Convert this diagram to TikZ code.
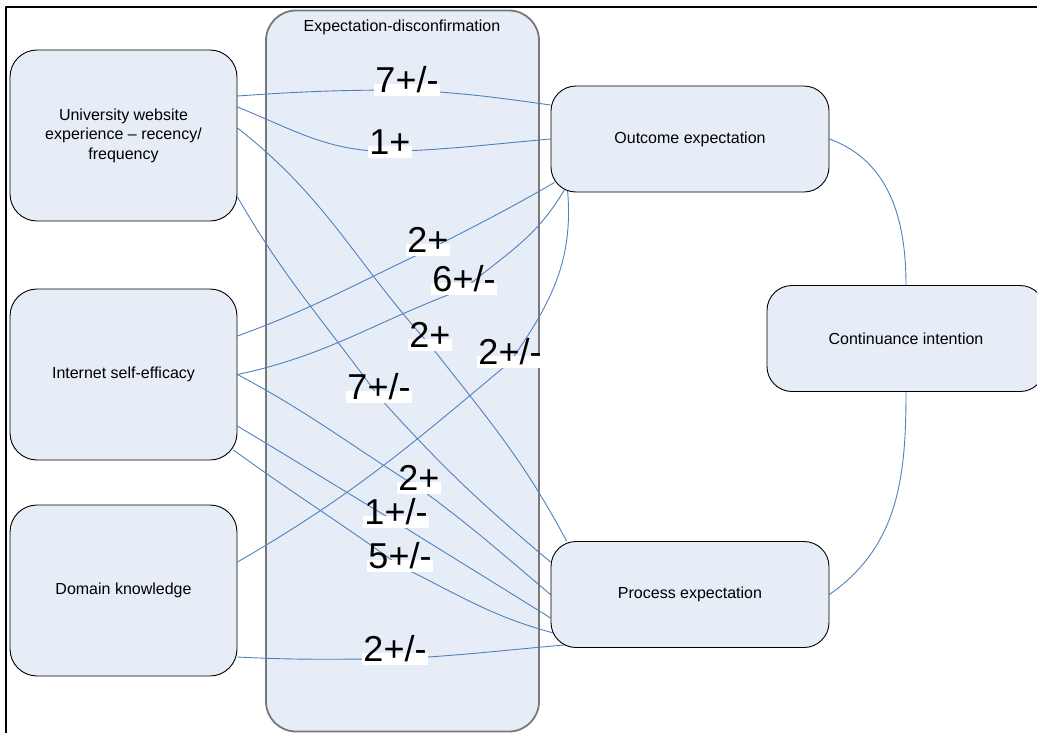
\documentclass[tikz,border=0pt]{standalone}
\usepackage{fontspec}
\setmainfont{Liberation Sans}
\definecolor{boxfill}{RGB}{230,237,247}
\definecolor{wireblue}{RGB}{79,129,189}
\definecolor{edgray}{RGB}{120,120,120}
\pgfdeclarelayer{back}
\pgfdeclarelayer{wires}
\pgfsetlayers{back,wires,main}
\tikzset{
	factor/.style={draw, fill=boxfill, line width=0.9pt, rounded corners=27pt,
		minimum width=227pt, minimum height=171pt, align=center, inner sep=0pt,
		font=\fontsize{16}{19.5}\selectfont},
	expect/.style={factor, rounded corners=25pt, minimum width=278pt, minimum height=106pt},
	group/.style={draw=edgray, fill=boxfill, line width=1.8pt, rounded corners=30pt,
		minimum width=273pt, minimum height=721pt, inner sep=0pt},
	wire/.style={draw=wireblue, line width=0.9pt},
	count/.style={fill=white, inner sep=0pt, inner xsep=1pt, text height=0.88em,
		text depth=0.32em, font=\fontsize{36}{36}\selectfont}
}
\begin{document}
\begin{tikzpicture}[x=1pt, y=-1pt, line join=round, line cap=round]
	\useasboundingbox (0,0) rectangle (1037,732);
	\draw[line width=2.5pt] (6,740) -- (6,7) -- (1045,7);
	\begin{pgfonlayer}{back}
		\node[group] (ed) at (402.5,371) {};
	\end{pgfonlayer}
	\node[font=\fontsize{16}{19}\selectfont] (edtitle) at (402,27) {Expectation-disconfirmation};
	\node[factor] (uw) at (123.5,135.5) {University website\\experience -- recency/\\frequency};
	\node[factor] (ise) at (123.5,374.5) {Internet self-efficacy};
	\node[factor] (dk) at (123.5,590.5) {Domain knowledge};
	\node[expect] (oe) at (690,139) {Outcome expectation};
	\node[expect] (pe) at (690,594.5) {Process expectation};
	\node[expect] (ci) at (906,338.5) {Continuance intention};
	\foreach \n/\x/\y/\t in {l1/407/90/{7+/-}, l2/390/151.5/{1+}, l3/428/250/{2+},
		l4/464/289/{6+/-}, l5/430/345/{2+}, l6/379/397/{7+/-}, l7/510/362/{2+/-},
		l8/419/488/{2+}, l9/396/522/{1+/-}, l10/400/566/{5+/-}, l11/395/659/{2+/-}}
	\node[count] (\n) at (\x,\y) {\t};
	\begin{pgfonlayer}{wires}
		\draw[wire] ([yshift=39.5pt]uw.east) to[out=4,in=180] (l1.center) to[out=-3,in=172] ([yshift=34pt]oe.west);
		\draw[wire] ([yshift=28.5pt]uw.east) to[out=-22,in=180] (l2.center) to[out=2,in=185] (oe.west);
		\draw[wire] ([yshift=7.5pt]uw.east) to[out=-38,in=132] (l5.center) to[out=-52,in=118] ([xshift=16pt]pe.north west);
		\draw[wire] ([yshift=-61.5pt]uw.east) to[out=-60,in=126] (l6.center) to[out=-48,in=140] ([yshift=32.5pt]pe.west);
		\draw[wire] ([yshift=38.5pt]ise.east) to[out=20,in=205] (l3.center) to[out=27,in=210] ([xshift=4pt,yshift=10pt]oe.south west);
		\draw[wire] (ise.east) to[out=12,in=200] (l4.center) to[out=40,in=240] ([xshift=14pt,yshift=3pt]oe.south west);
		\draw[wire] ([yshift=28.5pt]dk.east) to[out=30,in=220] (l7.center) to[out=55,in=-85] ([xshift=17pt,yshift=2pt]oe.south west);
		\draw[wire] (ise.east) to[out=-28,in=148] (l8.center) to[out=-36,in=140] (pe.west);
		\draw[wire] ([yshift=-51.5pt]ise.east) to[out=-31,in=149] (l9.center) to[out=-32,in=148] ([yshift=-23.5pt]pe.west);
		\draw[wire] ([xshift=-4pt,yshift=-75.5pt]ise.east) to[out=-36,in=144] (l10.center) to[out=-26,in=165] ([xshift=3pt,yshift=-38.5pt]pe.west);
		\draw[wire] ([yshift=-66.5pt]dk.east) to[out=-3,in=180] (l11.center) to[out=3,in=185] ([xshift=14pt,yshift=3pt]pe.south west);
		\draw[wire] (oe.east) to[out=-20,in=90] (ci.north);
		\draw[wire] (ci.south) to[out=-90,in=35] (pe.east);
	\end{pgfonlayer}
\end{tikzpicture}
\end{document}
